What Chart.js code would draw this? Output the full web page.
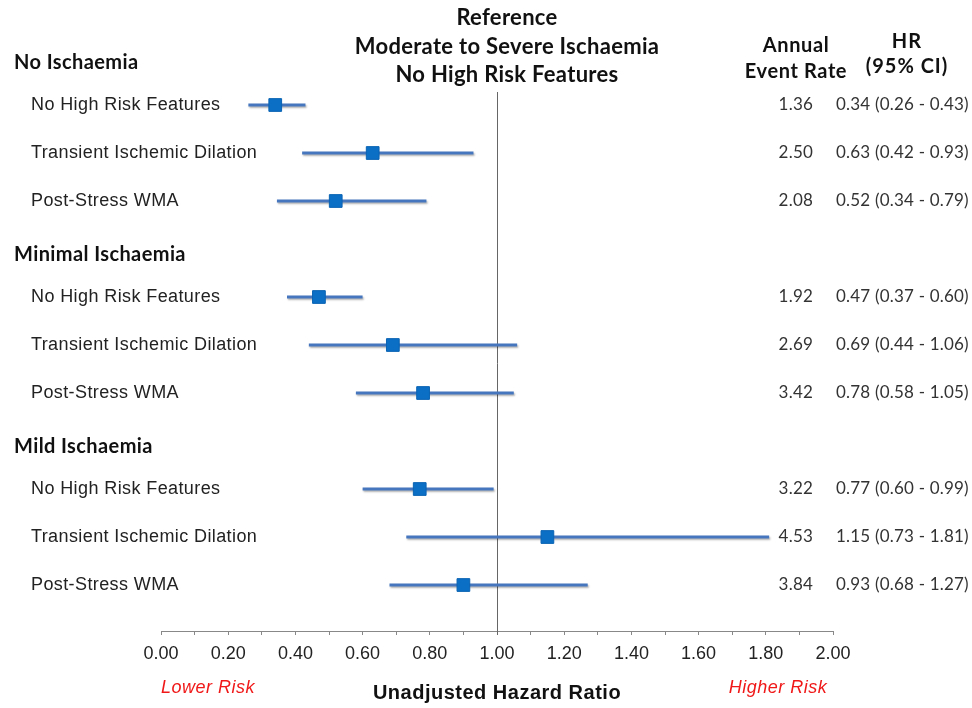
<!DOCTYPE html>
<html>
<head>
<meta charset="utf-8">
<script src="https://cdn.jsdelivr.net/npm/chart.js@4.4.1/dist/chart.umd.min.js"></script>
<style>
  html, body { margin: 0; padding: 0; background: #fff; }
  #wrap { width: 972px; height: 708px; }
</style>
</head>
<body>
<div id="wrap"><canvas id="chart" width="972" height="708"></canvas></div>
<script>
// groups and the rows inside each group
const groups = ['No Ischaemia', 'Minimal Ischaemia', 'Mild Ischaemia'];
const features = ['No High Risk Features', 'Transient Ischemic Dilation', 'Post-Stress WMA'];

// hazard ratio points and 95% CI as drawn
const hr    = [0.34, 0.63, 0.52, 0.47, 0.69, 0.78, 0.77, 1.15, 0.90];
const lower = [0.26, 0.42, 0.345, 0.375, 0.44, 0.58, 0.60, 0.73, 0.68];
const upper = [0.43, 0.93, 0.79, 0.60, 1.06, 1.05, 0.99, 1.81, 1.27];

// right hand columns
const eventRate = ['1.36', '2.50', '2.08', '1.92', '2.69', '3.42', '3.22', '4.53', '3.84'];
const hrText = [
  '0.34 (0.26 - 0.43)', '0.63 (0.42 - 0.93)', '0.52 (0.34 - 0.79)',
  '0.47 (0.37 - 0.60)', '0.69 (0.44 - 1.06)', '0.78 (0.58 - 1.05)',
  '0.77 (0.60 - 0.99)', '1.15 (0.73 - 1.81)', '0.93 (0.68 - 1.27)'
];

const titleLines = ['Reference', 'Moderate to Severe Ischaemia', 'No High Risk Features'];
const xTitle = 'Unadjusted Hazard Ratio';

// build the row list: header then its features
let rows = [];
let k = 0;
groups.forEach((g) => {
  rows.push({ header: true, text: g });
  features.forEach((f) => {
    rows.push({ header: false, text: f, i: k });
    k++;
  });
});

let points = [];
rows.forEach((r, idx) => {
  if (!r.header) points.push({ x: hr[r.i], y: idx, lo: lower[r.i], hi: upper[r.i] });
});

const forestPlugin = {
  id: 'forest',
  beforeDatasetsDraw(chart) {
    const ctx = chart.ctx;
    const xs = chart.scales.x, ys = chart.scales.y;
    const area = chart.chartArea;
    // reference line at HR = 1
    ctx.save();
    ctx.strokeStyle = '#666';
    ctx.lineWidth = 1;
    ctx.beginPath();
    ctx.moveTo(Math.round(xs.getPixelForValue(1)) + 0.5, area.top + 17);
    ctx.lineTo(Math.round(xs.getPixelForValue(1)) + 0.5, area.bottom + 4);
    ctx.stroke();
    // confidence intervals
    ctx.strokeStyle = '#4677be';
    ctx.lineWidth = 3;
    ctx.shadowColor = 'rgba(0,0,0,0.3)';
    ctx.shadowOffsetX = 1;
    ctx.shadowOffsetY = 1.5;
    ctx.shadowBlur = 2;
    points.forEach((p) => {
      const y = ys.getPixelForValue(p.y);
      ctx.beginPath();
      ctx.moveTo(xs.getPixelForValue(p.lo), y);
      ctx.lineTo(xs.getPixelForValue(p.hi), y);
      ctx.stroke();
    });
    ctx.restore();
  },
  afterDraw(chart) {
    const ctx = chart.ctx;
    const xs = chart.scales.x, ys = chart.scales.y;
    ctx.save();
    ctx.textBaseline = 'middle';

    // row labels and right columns
    rows.forEach((r, idx) => {
      const y = ys.getPixelForValue(idx);
      if (r.header) {
        ctx.font = 'bold 20px Lato';
        ctx.letterSpacing = '0.4px';
        ctx.fillStyle = '#111';
        ctx.textAlign = 'left';
        ctx.fillText(r.text, 14, y + 6);
      } else {
        ctx.font = '18px "Liberation Sans"';
        ctx.letterSpacing = '0.4px';
        ctx.fillStyle = '#222';
        ctx.textAlign = 'left';
        ctx.fillText(r.text, 31, y);
        ctx.font = '17px Lato';
        ctx.letterSpacing = '0.2px';
        ctx.fillStyle = '#333';
        ctx.textAlign = 'right';
        ctx.fillText(eventRate[r.i], 813, y);
        ctx.textAlign = 'left';
        ctx.fillText(hrText[r.i], 836, y);
      }
    });

    // title
    ctx.font = 'bold 22px Lato';
    ctx.letterSpacing = '0.3px';
    ctx.fillStyle = '#111';
    ctx.textAlign = 'center';
    titleLines.forEach((t, i) => ctx.fillText(t, 507, 18 + i * 28.5));

    // column headers
    ctx.font = 'bold 20px Lato';
    ctx.letterSpacing = '0.6px';
    ctx.fillText('Annual', 796, 46);
    ctx.fillText('Event Rate', 796, 72);
    ctx.letterSpacing = '1px';
    ctx.fillText('HR', 907, 42);
    ctx.fillText('(95% CI)', 907, 67);

    // axis title and risk labels
    ctx.font = 'bold 20px "Liberation Sans"';
    ctx.letterSpacing = '0.5px';
    ctx.fillStyle = '#111';
    ctx.fillText(xTitle, xs.getPixelForValue(1), 693);
    ctx.font = 'italic 18px "Liberation Sans"';
    ctx.letterSpacing = '0.5px';
    ctx.fillStyle = '#f01818';
    ctx.fillText('Lower Risk', 208, 688);
    ctx.fillText('Higher Risk', 778, 688);
    ctx.restore();
  }
};

const ctx = document.getElementById('chart').getContext('2d');
const chart = new Chart(ctx, {
  type: 'scatter',
  data: {
    datasets: [{
      data: points,
      pointStyle: 'rect',
      pointRadius: 9,
      pointHoverRadius: 9,
      backgroundColor: '#0b6fc6',
      borderColor: '#0a63b3',
      borderWidth: 1
    }]
  },
  options: {
    responsive: false,
    animation: false,
    events: [],
    layout: { padding: { left: 161, right: 139, top: 75, bottom: 0 } },
    plugins: { legend: { display: false }, tooltip: { enabled: false } },
    scales: {
      x: {
        type: 'linear',
        min: 0,
        max: 2,
        afterFit: (s) => { s.height = 77; },
        border: { color: '#888', width: 1 },
        grid: { drawOnChartArea: false, tickLength: 4, color: '#888' },
        ticks: {
          stepSize: 0.1,
          autoSkip: false,
          maxRotation: 0,
          padding: 8,
          color: '#222',
          font: { family: '"Liberation Sans"', size: 18 },
          callback: (v) => (Math.round(v * 10) % 2 === 0 ? v.toFixed(2) : '')
        }
      },
      y: {
        type: 'linear',
        display: false,
        reverse: true,
        min: 0.375,
        max: 11.958
      }
    }
  },
  plugins: [forestPlugin]
});
</script>
</body>
</html>
